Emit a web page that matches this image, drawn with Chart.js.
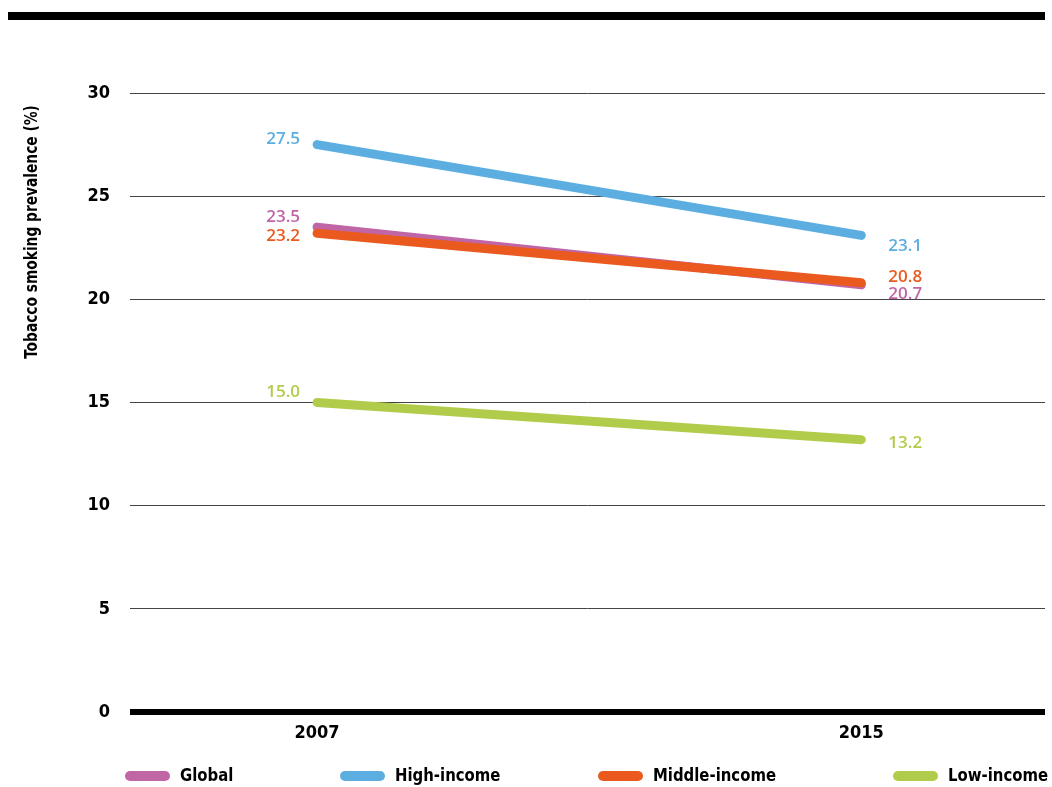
<!DOCTYPE html>
<html>
<head>
<meta charset="utf-8">
<script src="https://cdn.jsdelivr.net/npm/chart.js@4"></script>
<style>
  html, body { margin: 0; padding: 0; background: #fff; }
  #wrap { width: 1052px; height: 787px; }
</style>
</head>
<body>
<div id="wrap"><canvas id="chart" width="1052" height="787"></canvas></div>
<script>
// data
const years = [2007, 2015];
const seriesNames = ['Global', 'High-income', 'Middle-income', 'Low-income'];
const globalVals = [23.5, 20.7];
const highVals = [27.5, 23.1];
const middleVals = [23.2, 20.8];
const lowVals = [15.0, 13.2];
const yTicks = [0, 5, 10, 15, 20, 25, 30];

const colors = ['#c066a6', '#5daee0', '#ea5a1f', '#b1cc4a'];
// small vertical nudges for the value labels [left, right]
const labelNudge = [[-10, 9], [-5, 11], [3, -6], [-10, 4]];

const condensed = "'Liberation Sans Narrow', 'DejaVu Sans Condensed', 'Roboto Condensed', sans-serif";
const labelFont = "'Open Sans', 'Noto Sans', sans-serif";

const allVals = [globalVals, highVals, middleVals, lowVals];

const datasets = allVals.map((vals, i) => ({
    label: seriesNames[i],
    data: years.map((y, j) => ({ x: y, y: vals[j] })),
    borderColor: colors[i],
    backgroundColor: colors[i],
    borderWidth: 9,
    borderCapStyle: 'round',
    pointRadius: 0,
    tension: 0,
    order: i === 2 ? 0 : i + 1
}));

// draw text squeezed horizontally, to get closer to the condensed face
function narrowText(ctx, text, x, y, squeeze) {
    ctx.save();
    ctx.translate(x, y);
    ctx.scale(squeeze, 1);
    ctx.fillText(text, 0, 0);
    ctx.restore();
}

const extrasPlugin = {
    id: 'extras',
    afterDatasetsDraw(chart) {
        const ctx = chart.ctx;
        const xs = chart.scales.x, ys = chart.scales.y;
        ctx.save();
        ctx.font = `600 17px ${labelFont}`;
        ctx.textBaseline = 'middle';
        allVals.forEach((vals, i) => {
            ctx.fillStyle = colors[i];
            ctx.textAlign = 'right';
            ctx.fillText(vals[0].toFixed(1), xs.getPixelForValue(years[0]) - 17,
                ys.getPixelForValue(vals[0]) + labelNudge[i][0]);
            ctx.textAlign = 'left';
            ctx.fillText(vals[1].toFixed(1), xs.getPixelForValue(years[1]) + 27,
                ys.getPixelForValue(vals[1]) + labelNudge[i][1]);
        });
        ctx.restore();
    },
    afterDraw(chart) {
        const ctx = chart.ctx;
        ctx.save();
        // top rule
        ctx.fillStyle = '#000';
        ctx.fillRect(8, 12, 1037, 8);

        // y axis title
        ctx.translate(33, 232);
        ctx.rotate(-Math.PI / 2);
        ctx.font = `bold 17px ${condensed}`;
        ctx.textAlign = 'center';
        ctx.textBaseline = 'middle';
        ctx.fillStyle = '#000';
        narrowText(ctx, 'Tobacco smoking prevalence (%)', 0, 0, 0.9);
        ctx.restore();

        // legend
        ctx.save();
        const legendX = [125, 340, 598, 893];
        const ly = 776;
        ctx.font = `bold 18px ${condensed}`;
        ctx.textBaseline = 'middle';
        ctx.textAlign = 'left';
        seriesNames.forEach((name, i) => {
            ctx.strokeStyle = colors[i];
            ctx.lineWidth = 10;
            ctx.lineCap = 'round';
            ctx.beginPath();
            ctx.moveTo(legendX[i] + 5, ly);
            ctx.lineTo(legendX[i] + 40, ly);
            ctx.stroke();
            ctx.fillStyle = '#000';
            narrowText(ctx, name, legendX[i] + 55, ly, 0.92);
        });
        ctx.restore();
    }
};

new Chart(document.getElementById('chart'), {
    type: 'line',
    data: { datasets },
    options: {
        responsive: false,
        animation: false,
        layout: { padding: { top: 93, right: 7, bottom: 0, left: 0 } },
        plugins: { legend: { display: false }, tooltip: { enabled: false } },
        scales: {
            x: {
                type: 'linear',
                min: 2004.25,
                max: 2017.7,
                afterBuildTicks: axis => { axis.ticks = years.map(v => ({ value: v })); },
                afterFit: axis => { axis.height = 75; },
                grid: { display: false },
                border: { display: false },
                ticks: {
                    color: '#000',
                    padding: 3,
                    font: { family: condensed, size: 18, weight: 'bold' },
                    callback: v => String(v)
                }
            },
            y: {
                min: 0,
                max: 30,
                afterBuildTicks: axis => { axis.ticks = yTicks.map(v => ({ value: v })); },
                afterFit: axis => { axis.width = 130; },
                border: { display: false },
                grid: {
                    drawTicks: false,
                    color: ctx => ctx.tick && ctx.tick.value === 0 ? '#000' : '#444',
                    lineWidth: ctx => ctx.tick && ctx.tick.value === 0 ? 6 : 1
                },
                ticks: {
                    color: '#000',
                    padding: 20,
                    font: { family: condensed, size: 18, weight: 'bold' }
                }
            }
        }
    },
    plugins: [extrasPlugin]
});
</script>
</body>
</html>
